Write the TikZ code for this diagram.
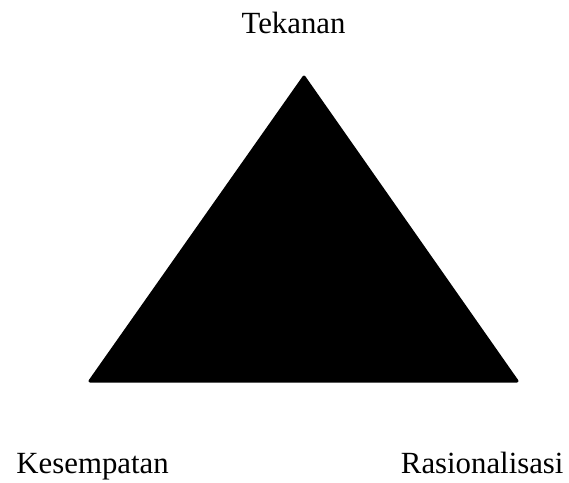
\documentclass[tikz,border=0pt]{standalone}
\usepackage{fontspec}
\setmainfont{Liberation Serif}
\usetikzlibrary{calc}

\begin{document}
\begin{tikzpicture}[x=0.5pt, y=-0.5pt, line width=1.5pt, line join=round,
    font=\fontsize{15.4}{18}\selectfont,
    label/.style={inner sep=0pt, anchor=base}]

  \useasboundingbox (0,0) rectangle (569,483);

  % ---------- triangle corners ----------
  \coordinate (top)   at (304,77);
  \coordinate (left)  at (90,381);
  \coordinate (right) at (517,381);

  % ---------- the triangle ----------
  \draw[fill=black] (top) -- (left) -- (right) -- cycle;

  % ---------- labels ----------
  \node[label] (tekanan) at (293.5,33) {Tekanan};
  \node[label, anchor=base west] (kesempatan) at (15,473) {Kesempatan};
  \node[label, anchor=base east] (rasionalisasi) at (565,473) {Rasionalisasi};

\end{tikzpicture}
\end{document}
